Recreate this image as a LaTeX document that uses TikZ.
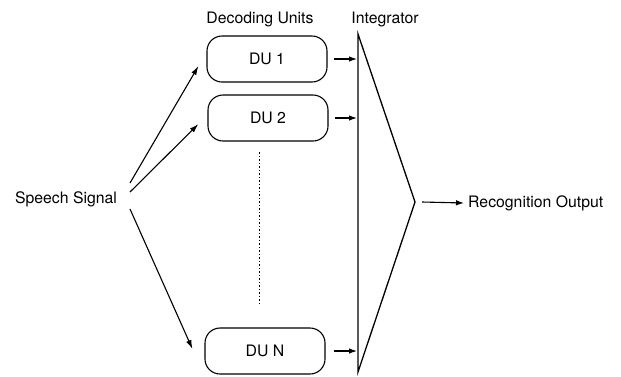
\documentclass[tikz,border=0pt]{standalone}
\usepackage{fontspec}
\setmainfont{TeX Gyre Heros}
\usetikzlibrary{arrows.meta}
\begin{document}
\begin{tikzpicture}[x=1pt,y=-1pt,
  every node/.style={font=\fontsize{15.8}{18}\selectfont, inner sep=0pt},
  du/.style={draw, line width=1.1pt, rounded corners=15pt, minimum width=120pt, minimum height=46pt},
  arr/.style={line width=1.1pt, -{Latex[length=8pt,width=5.5pt]}},
  sarr/.style={line width=1.1pt, -{Latex[length=9pt,width=5.5pt]}},
  integ/.style={line width=1.3pt, line join=miter}
]
\useasboundingbox (0,0) rectangle (621,376);
% labels
\node (lbdu) at (260,19) {Decoding Units};
\node (lbint) at (385,19) {Integrator};
\node (sp) at (66,199) {Speech Signal};
\node[anchor=west] (out) at (468,203) {Recognition Output};
% boxes
\node[du] (du1) at (267,59) {DU 1};
\node[du] (du2) at (268,118) {DU 2};
\node[du] (duN) at (265,351) {DU N};
% integrator
\coordinate (itop) at (358,34);
\coordinate (ibot) at (358,372);
\coordinate (apex) at (415,202);
\draw[integ] (itop) -- (ibot) -- (apex) -- cycle;
% speech arrows
\coordinate (s1) at (130,183);
\coordinate (s2) at (130,192);
\coordinate (s3) at (130,209);
\draw[sarr] (s1) -- ([xshift=-8pt,yshift=-7pt]du1.west);
\draw[sarr] (s2) -- ([xshift=-9pt,yshift=-6pt]du2.west);
\draw[sarr] (s3) -- ([xshift=-12pt,yshift=2pt]duN.west);
% box to integrator arrows
\draw[arr] ([xshift=6pt]du1.east) -- ([xshift=-1pt]du1.east -| itop);
\draw[arr] ([xshift=6pt]du2.east) -- ([xshift=-1pt]du2.east -| itop);
\draw[arr] ([xshift=8pt]duN.east) -- ([xshift=-1pt]duN.east -| itop);
% dotted
\coordinate (d1) at (259,152);
\coordinate (d2) at (259,303);
\draw[line width=0.6pt, dash pattern=on 1.5pt off 2pt] (d1) -- (d2);
% output
\draw[arr] ([xshift=7pt]apex) -- ([xshift=-4pt]out.west);
\end{tikzpicture}
\end{document}
